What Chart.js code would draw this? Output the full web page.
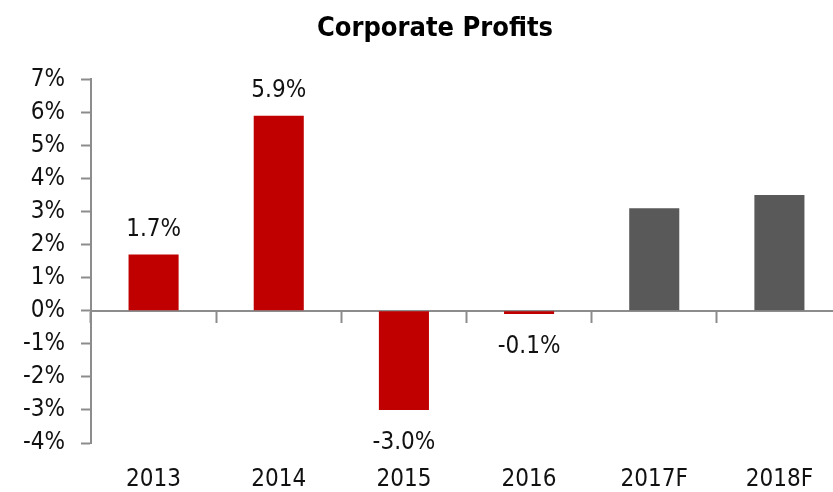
<!DOCTYPE html>
<html>
<head>
<meta charset="utf-8">
<script src="https://cdn.jsdelivr.net/npm/chart.js@4"></script>
<style>
  html, body { margin: 0; padding: 0; background: #fff; overflow: hidden; }
</style>
</head>
<body>
<canvas id="grafica" width="842" height="492"></canvas>
<script>
// datos
const categorias = ['2013', '2014', '2015', '2016', '2017F', '2018F'];
const valores = [1.7, 5.9, -3.0, -0.1, 3.1, 3.5];
const etiquetas = ['1.7%', '5.9%', '-3.0%', '-0.1%', '', ''];
const colores = ['#C00000', '#C00000', '#C00000', '#C00000', '#595959', '#595959'];

const fuente = "'Liberation Sans Narrow', 'Arial Narrow', 'DejaVu Sans Condensed', sans-serif";
const gris = '#8c8c8c';

// etiquetas de valor sobre / bajo cada barra
const etiquetasPlugin = {
    id: 'etiquetas',
    afterLayout(chart) {
        // el padding izquierdo solo sirve para centrar el titulo; el eje y usa todo el borde
        chart.scales.y.left = 0;
    },
    afterDatasetsDraw(chart) {
        const ctx = chart.ctx;
        const meta = chart.getDatasetMeta(0);
        ctx.save();
        ctx.font = '24px ' + fuente;
        ctx.fillStyle = '#111';
        ctx.textAlign = 'center';
        ctx.textBaseline = 'middle';
        meta.data.forEach((bar, i) => {
            if (!etiquetas[i]) return;
            const y = valores[i] >= 0 ? bar.y - 25 : bar.y + 33;
            ctx.fillText(etiquetas[i], bar.x, y);
        });
        ctx.restore();
    }
};

new Chart(document.getElementById('grafica'), {
    type: 'bar',
    data: {
        labels: categorias,
        datasets: [{
            data: valores,
            backgroundColor: colores,
            borderWidth: 0,
            barPercentage: 0.5,
            categoryPercentage: 0.8,
        }],
    },
    options: {
        responsive: false,
        animation: false,
        layout: { padding: { left: 28, right: 0, top: 0, bottom: 0 } },
        plugins: {
            legend: { display: false },
            tooltip: { enabled: false },
            title: {
                display: true,
                text: 'Corporate Profits',
                color: '#000',
                font: { family: fuente, size: 27, weight: 'bold' },
                padding: { top: 13, bottom: 34 },
            },
        },
        scales: {
            x: {
                grid: { display: false, drawTicks: false },
                border: { display: false },
                ticks: {
                    color: '#111',
                    font: { family: fuente, size: 24 },
                    padding: 22,
                    maxRotation: 0,
                    autoSkip: false,
                },
                afterFit: (s) => { s.height = 49; },
            },
            x2: {
                type: 'category',
                position: { y: 0 },
                offset: true,
                grid: { drawOnChartArea: false, tickLength: 11, tickColor: gris, tickWidth: 2, offset: true },
                border: { color: gris, width: 2 },
                ticks: { display: false },
            },
            y: {
                min: -4,
                max: 7,
                ticks: {
                    stepSize: 1,
                    autoSkip: false,
                    color: '#111',
                    font: { family: fuente, size: 24 },
                    padding: 16,
                    callback: (v) => v + '%',
                },
                grid: { drawOnChartArea: false, tickLength: 10, tickColor: gris, tickWidth: 2 },
                border: { color: gris, width: 2 },
                afterFit: (s) => { s.width = 63; },
            },
        },
    },
    plugins: [etiquetasPlugin],
});
</script>
</body>
</html>
